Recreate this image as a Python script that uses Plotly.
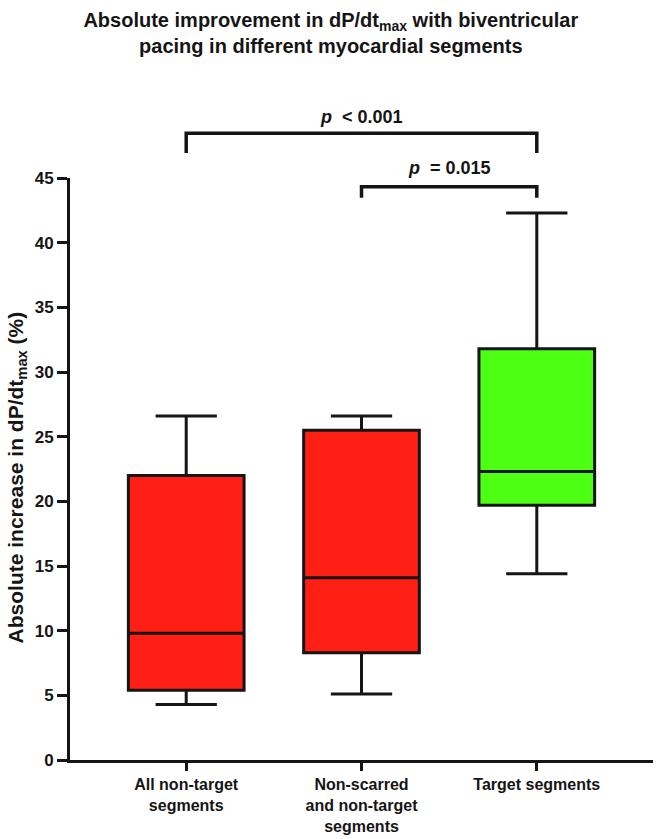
import plotly.graph_objects as go

# box statistics (% increase in dP/dt max)
categories = ["All non-target<br>segments",
              "Non-scarred<br>and non-target<br>segments",
              "Target segments"]
lower = [4.3, 5.1, 14.4]
q1 = [5.4, 8.3, 19.7]
median = [9.8, 14.1, 22.3]
q3 = [22.0, 25.5, 31.8]
upper = [26.6, 26.6, 42.3]
box_colors = ["#ff1f14", "#ff1f14", "#4dff12"]

# significance brackets: (left group, right group, label)
comparisons = [(0, 2, "<i>p</i>  < 0.001"), (1, 2, "<i>p</i>  = 0.015")]

FONT = "Liberation Sans, Arial, sans-serif"
INK = "#151515"

fig = go.Figure()
for i, cat in enumerate(categories):
    fig.add_trace(go.Box(
        x=[i],
        q1=[q1[i]], median=[median[i]], q3=[q3[i]],
        lowerfence=[lower[i]], upperfence=[upper[i]],
        fillcolor=box_colors[i],
        line=dict(color=INK, width=3),
        width=0.66,
        whiskerwidth=0.53,
        boxpoints=False,
        showlegend=False,
        name=cat.replace("<br>", " "),
    ))

# brackets drawn in paper coords (top bar, foot, label centre)
bracket_levels = [(1.077, 1.043, 1.105), (0.985, 0.966, 1.017)]
for (a, b, label), (top, foot, ty) in zip(comparisons, bracket_levels):
    fig.add_shape(type="path",
                  path=f"M {a},{foot} L {a},{top} L {b},{top} L {b},{foot}",
                  xref="x", yref="paper",
                  line=dict(color=INK, width=3.5))
    fig.add_annotation(x=(a + b) / 2, y=ty,
                       xref="x", yref="paper", yanchor="middle",
                       text=f"<b>{label}</b>", showarrow=False,
                       font=dict(size=18, color=INK, family=FONT))

# y axis title as a rotated annotation so it can sit close to the edge
fig.add_annotation(x=-0.0915, y=0.485, xref="paper", yref="paper",
                   xanchor="center", yanchor="middle", textangle=-90,
                   text="<b>Absolute increase in dP/dt<sub>max</sub> (%)</b>",
                   showarrow=False,
                   font=dict(size=21, color=INK, family=FONT))

fig.update_layout(
    width=659, height=839,
    margin=dict(l=70, r=6, t=178, b=79),
    paper_bgcolor="white", plot_bgcolor="white",
    font=dict(family=FONT, color=INK),
    title=dict(
        text="<b>Absolute improvement in dP/dt<sub>max</sub> with biventricular"
             "<br>pacing in different myocardial segments</b>",
        x=0.502, xanchor="center", y=0.968, yanchor="top",
        font=dict(size=20, color=INK, family=FONT),
    ),
    xaxis=dict(
        range=[-0.663, 2.663], automargin=False,
        tickvals=[0, 1, 2], ticktext=[f"<b>{c}</b>" for c in categories],
        showline=True, linecolor=INK, linewidth=3,
        ticks="outside", ticklen=8, tickwidth=3, tickcolor=INK,
        tickfont=dict(size=16, family=FONT, color=INK),
        showgrid=False, zeroline=False,
    ),
    yaxis=dict(
        range=[0, 45], dtick=5, automargin=False,
        showline=True, linecolor=INK, linewidth=3,
        ticks="outside", ticklen=10, tickwidth=3, tickcolor=INK,
        tickfont=dict(size=17, family=FONT, color=INK, weight="bold"),
        showgrid=False, zeroline=False,
    ),
)

# drop the default 8px page margin so the figure fills the window
fig.write_html("out.html", config={"displayModeBar": False},
               post_script="document.body.style.margin = '0';")
